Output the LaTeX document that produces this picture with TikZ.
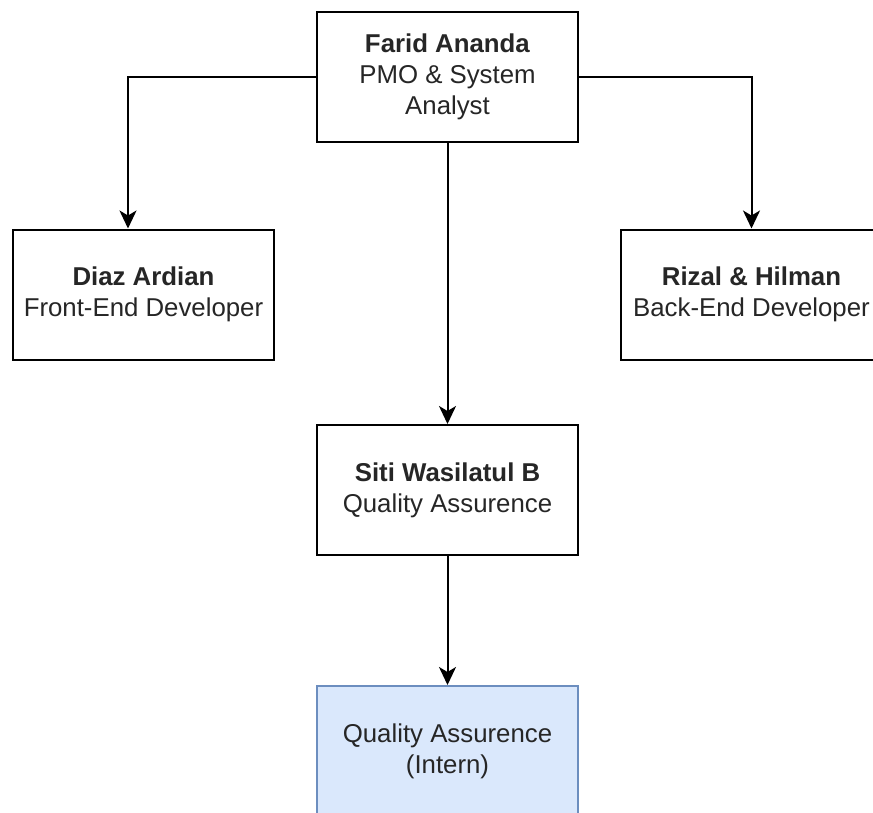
\documentclass[tikz,border=0pt]{standalone}
\usepackage{fontspec}
\setmainfont{Liberation Sans}
\usetikzlibrary{arrows.meta}
\definecolor{txt}{HTML}{262626}
\definecolor{bluefill}{HTML}{DAE8FC}
\definecolor{blueline}{HTML}{6C8EBF}
\begin{document}
\begin{tikzpicture}[x=1pt,y=-1pt,
  box/.style={draw=black,line width=2pt,fill=white,rectangle,minimum width=261pt,minimum height=130pt,
    inner sep=0pt,align=center,text=txt,font=\fontsize{25.8}{31}\selectfont},
  bluebox/.style={box,draw=blueline,fill=bluefill},
  arr/.style={line width=2pt,draw=black,-{Stealth[length=18pt,width=17pt,inset=5pt]}}]
\useasboundingbox (0,0) rectangle (873,812);
\clip (0,0) rectangle (873,812);
\node[box] (top) at (447.5,77) {\textbf{Farid Ananda}\\PMO \& System\\Analyst};
\node[box] (left) at (143.5,294.5) {\textbf{Diaz Ardian}\\Front-End Developer};
\node[box] (right) at (751.5,294.5) {\textbf{Rizal \& Hilman}\\Back-End Developer};
\node[box] (mid) at (447.5,490) {\textbf{Siti Wasilatul B}\\Quality Assurence};
\node[bluebox] (bot) at (447.5,751) {Quality Assurence\\(Intern)};
\draw[arr] (top.west) -| ([xshift=-15.5pt]left.north);
\draw[arr] (top.east) -| (right.north);
\draw[arr] (top.south) -- (mid.north);
\draw[arr] (mid.south) -- (bot.north);
\end{tikzpicture}
\end{document}
